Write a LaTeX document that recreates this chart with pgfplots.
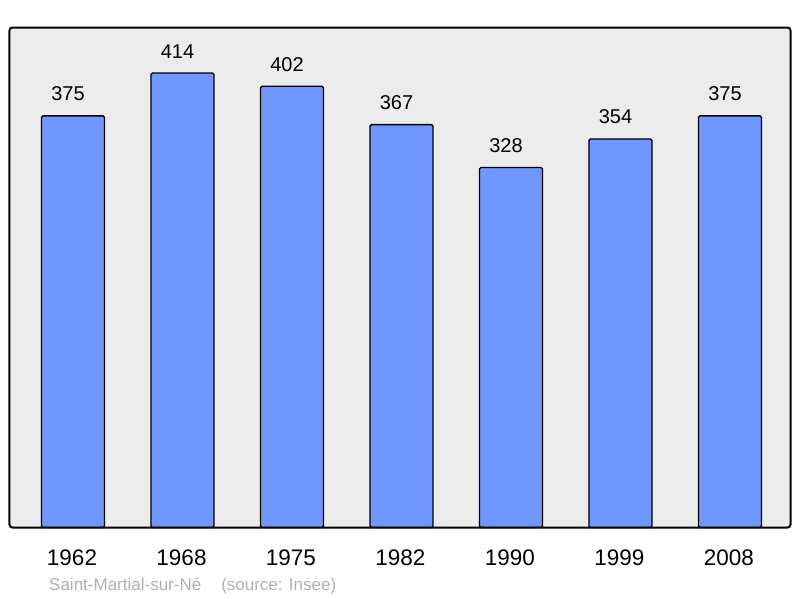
\documentclass[border=0pt]{standalone}
\usepackage{fontspec}
\setmainfont{Liberation Sans}
\usepackage{pgfplots}
\pgfplotsset{compat=1.18}
\definecolor{bgc}{RGB}{236,236,236}
\definecolor{barc}{RGB}{112,150,255}
\definecolor{srcc}{RGB}{176,176,176}
\begin{document}
\begin{tikzpicture}[x=1pt,y=1pt]
\useasboundingbox (0,0) rectangle (800,598);
\begin{axis}[
  at={(9.5pt,70.5pt)}, anchor=south west,
  scale only axis, width=781pt, height=500pt,
  xmin=-0.58, xmax=6.553, ymin=0, ymax=455.5,
  axis background/.style={fill=bgc, rounded corners=3pt},
  axis line style={draw=none},
  major tick length=0pt,
  ytick=\empty,
  xtick={0,1,2,3,4,5,6},
  xticklabels={1962,1968,1975,1982,1990,1999,2008},
  xticklabel style={anchor=base, yshift=-37.5pt, xshift=-1pt, font=\fontsize{22.5}{24}\selectfont},
  /pgf/number format/assume math mode=true,
  ybar, bar width=63pt, bar shift=0pt,
  nodes near coords,
  every node near coord/.append style={anchor=base, yshift=15pt, xshift=-5pt, font=\fontsize{20}{22}\selectfont, text=black},
  clip=false,
  after end axis/.code={\draw[line width=2pt, rounded corners=3pt] (rel axis cs:0,0) rectangle (rel axis cs:1,1);},
]
\addplot[fill=barc, draw=black, line width=1.3pt, rounded corners=1.5pt] coordinates {
  (0,375) (1,414) (2,402) (3,367) (4,328) (5,354) (6,375)
};
\end{axis}
\node[anchor=base west, text=srcc, font=\fontsize{17}{19}\selectfont, inner sep=0pt] at (49,8) {Saint-Martial-sur-Né\hspace{20pt}(source: Insee)};
\end{tikzpicture}
\end{document}
